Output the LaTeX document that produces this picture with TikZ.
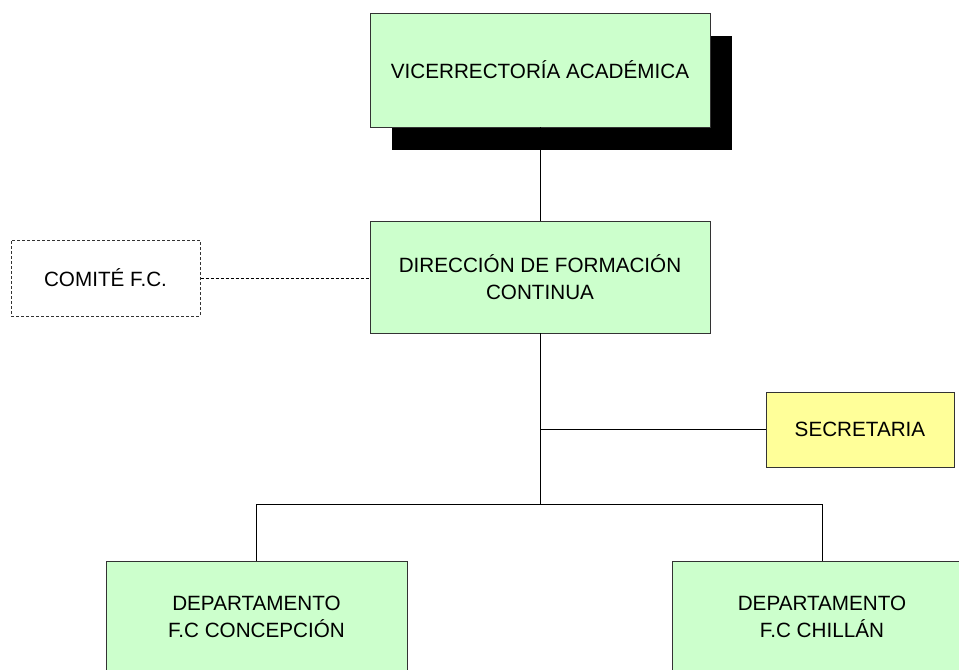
\documentclass[tikz,border=0pt]{standalone}
\usepackage{fontspec}
\setmainfont{Liberation Sans}
\usetikzlibrary{shadows}

\definecolor{cajaverde}{HTML}{CCFFCC}
\definecolor{cajaamarilla}{HTML}{FFFF99}
\definecolor{borde}{HTML}{333333}

\begin{document}
\begin{tikzpicture}[x=0.75pt, y=-0.75pt,
	every node/.style={rectangle, draw=borde, line width=0.6pt, align=center, font=\fontsize{15.5}{20}\selectfont},
	linea/.style={draw=black, line width=0.6pt},
	punteada/.style={dash pattern=on 2.25pt off 1.5pt, line width=0.75pt},
	unidad/.style={fill=cajaverde, minimum width=255pt, minimum height=84pt},
	apoyo/.style={fill=cajaamarilla, minimum width=141pt, minimum height=56.25pt},
	asesor/.style={fill=white, punteada, minimum width=141.75pt, minimum height=57pt}]
				\useasboundingbox (0,0) rectangle (959,669);
				
				\node[unidad, minimum height=85.5pt, drop shadow={shadow xshift=16.5pt, shadow yshift=-17.25pt, fill=black, opacity=1}] (vice) at (540,70){VICERRECTORÍA ACADÉMICA};
				\node[unidad] (dir) at (540,277){DIRECCIÓN DE FORMACIÓN\\CONTINUA};
				\node[asesor] (comite) at (105.5,278){COMITÉ F.C.};
				\node[apoyo] (secre) at (860,429.5){SECRETARIA};
				\node[unidad, minimum width=225.75pt] (conce) at (256.5,617){DEPARTAMENTO\\F.C CONCEPCIÓN};
				\node[unidad, minimum width=225pt] (chillan) at (822,617){DEPARTAMENTO\\F.C CHILLÁN};
				\coordinate (rama) at (540,504);
				
				\path[linea] (vice.south) edge (dir.north);
				\path[linea] (dir.south) edge (rama);
				\path[linea] (secre.west) edge (secre.west -| dir.south);
				\draw[linea] (conce.north) |- (rama) -| (chillan.north);
				\draw[linea, punteada] (comite.east) -- (comite.east -| dir.west);
				\end{tikzpicture}
\end{document}
